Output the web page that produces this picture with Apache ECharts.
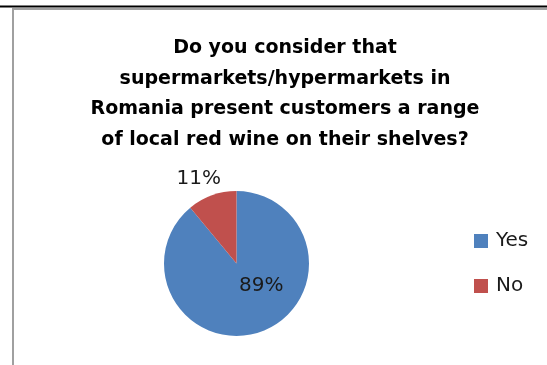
<!DOCTYPE html>
<html>
<head>
<meta charset="utf-8">
<script src="https://cdn.jsdelivr.net/npm/echarts@6/dist/echarts.min.js"></script>
<style>
  html, body { margin: 0; padding: 0; background: #fff; }
  #chart { width: 547px; height: 365px; }
</style>
</head>
<body>
<div id="chart"></div>
<script>
// Survey answers and their shares (percent)
const categories = ['Yes', 'No'];
const shares = [89, 11];
const colors = ['#4F81BD', '#C0504D'];
const titleText = 'Do you consider that\nsupermarkets/hypermarkets in\nRomania present customers a range\nof local red wine on their shelves?';

const chart = echarts.init(document.getElementById('chart'));

const pieData = categories.map((name, i) => ({
  name: name,
  value: shares[i],
  itemStyle: { color: colors[i] },
  label: i === 0
    ? { position: 'inside', offset: [11.5, -15] }
    : { position: 'outside', offset: [16, -11] }
}));

chart.setOption({
  animation: false,
  backgroundColor: '#ffffff',
  title: {
    text: titleText,
    left: 285,
    top: 33,
    padding: 0,
    textAlign: 'center',
    textStyle: {
      fontFamily: 'DejaVu Sans',
      fontWeight: 'bold',
      fontSize: 19,
      lineHeight: 30.6,
      color: '#000'
    }
  },
  legend: {
    orient: 'vertical',
    left: 474,
    top: 229,
    padding: 0,
    itemWidth: 14,
    itemHeight: 14,
    itemGap: 21,
    icon: 'rect',
    data: categories,
    textStyle: {
      fontFamily: 'DejaVu Sans',
      fontSize: 20,
      lineHeight: 24,
      color: '#1a1a1a',
      padding: [0, 0, 0, 3]
    }
  },
  series: [{
    type: 'pie',
    center: [236.5, 263.5],
    radius: 72.5,
    startAngle: 90,
    clockwise: true,
    silent: true,
    itemStyle: { borderWidth: 0 },
    label: {
      show: true,
      formatter: '{c}%',
      fontFamily: 'DejaVu Sans',
      fontSize: 20,
      color: '#1a1a1a'
    },
    labelLine: { show: false, length: 6, length2: 0 },
    data: pieData
  }],
  graphic: [
    { type: 'line', shape: { x1: 0, y1: 6.5, x2: 547, y2: 6.5 }, style: { stroke: '#000', lineWidth: 2 } },
    { type: 'line', shape: { x1: 12, y1: 9, x2: 547, y2: 9 }, style: { stroke: '#a0a0a0', lineWidth: 2 } },
    { type: 'line', shape: { x1: 13, y1: 8, x2: 13, y2: 365 }, style: { stroke: '#a0a0a0', lineWidth: 2 } }
  ]
});
</script>
</body>
</html>
